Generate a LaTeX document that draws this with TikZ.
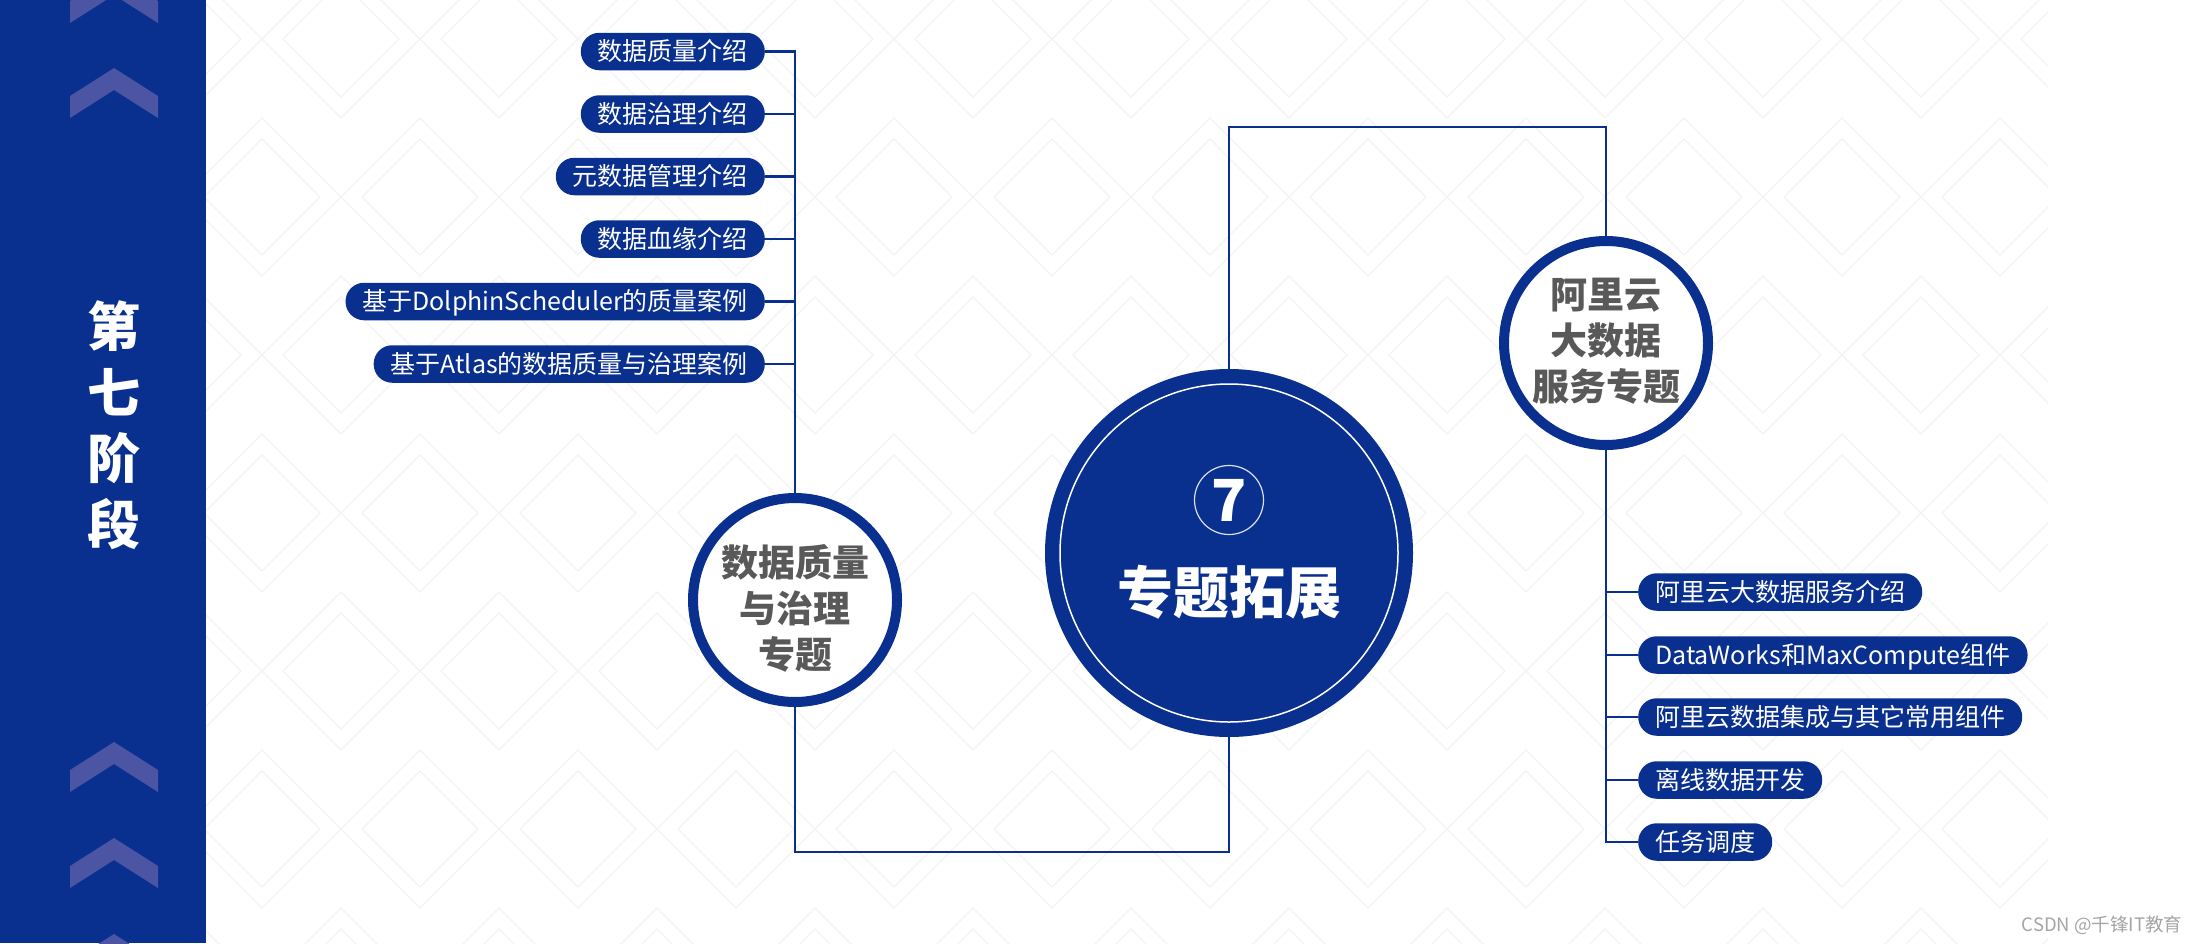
\documentclass[tikz,border=0pt]{standalone}
\usepackage{fontspec}
\setmainfont{Noto Sans CJK SC}
\definecolor{navy}{RGB}{10,48,143}
\definecolor{chev}{RGB}{76,84,164}
\definecolor{txtgrey}{RGB}{89,89,89}
\definecolor{patt}{RGB}{243,243,243}
\definecolor{wm}{RGB}{165,165,165}
\begin{document}
\begin{tikzpicture}[x=1pt,y=-1pt,
  conn/.style={draw=navy,line width=2.6pt},
  pill/.style={fill=navy,text=white,rounded corners=18.5pt,minimum height=37.5pt,
    inner xsep=17pt,inner ysep=0pt,text height=20pt,text depth=2pt,
    font=\fontsize{25}{25}\selectfont},
  ring/.style={circle,draw=navy,line width=10pt,fill=white,minimum size=204pt,inner sep=0pt},
  ringtext/.style={text=txtgrey,align=center,font=\bfseries\fontsize{37}{46}\selectfont},
  chevron/.style={fill=chev}]
\useasboundingbox (0,0) rectangle (2202,943);
\fill[white] (0,0) rectangle (2202,943);
% background pattern
\begin{scope}
\clip (206,0) rectangle (2048,943);
\foreach \j in {-4,...,3}{
  \foreach \i in {-1,...,12}{
    \pgfmathsetmacro{\cx}{262+158*\i+79*mod(abs(\j),2)}
    \pgfmathsetmacro{\cy}{513+158*\j}
    \draw[patt,line width=1.3pt] (\cx-79,\cy) -- (\cx,\cy-79) -- (\cx+79,\cy) -- (\cx,\cy+79) -- cycle;
    \draw[patt,line width=1.3pt] (\cx-58,\cy) -- (\cx,\cy-58) -- (\cx+58,\cy) -- (\cx,\cy+58) -- cycle;
  }
}
\end{scope}
% left band
\fill[navy] (0,0) rectangle (206,943);
\foreach \p in {-27,68,742,838,934}{
  \fill[chevron] (70,\p+28) -- (114,\p) -- (158,\p+28) -- (158,\p+50) -- (114,\p+22) -- (70,\p+50) -- cycle;
}
\node[text=white,align=center,font=\bfseries\fontsize{53}{66}\selectfont] (band) at (114,425) {第\\七\\阶\\段};
% central circle
\node[circle,fill=navy,minimum size=368pt,inner sep=0pt] (c7) at (1229,553) {};
\draw[white,line width=1.5pt] (c7.center) circle (169);
\node[circle,draw=white!85!navy,line width=1.2pt,minimum size=69pt,inner sep=0pt,text=white,
  font=\bfseries\fontsize{58}{58}\selectfont] (n7) at (1229,500) {7};
\node[text=white,font=\bfseries\fontsize{56}{56}\selectfont] (c7t) at (1229,592) {专题拓展};
% side circles
\node[ring] (dq) at (795,600) {};
\node[ringtext] (dqt) at (795,608) {数据质量\\与治理\\专题};
\node[ring] (ali) at (1606,343) {};
\node[ringtext] (alit) at (1606,341) {阿里云\\大数据\\服务专题};
% left pills
\node[pill,anchor=east] (p1) at (765,51.5) {数据质量介绍};
\node[pill,anchor=east] (p2) at (765,114) {数据治理介绍};
\node[pill,anchor=east] (p3) at (765,176.5) {元数据管理介绍};
\node[pill,anchor=east] (p4) at (765,239) {数据血缘介绍};
\node[pill,anchor=east] (p5) at (765,301.5) {基于DolphinScheduler的质量案例};
\node[pill,anchor=east] (p6) at (765,364) {基于Atlas的数据质量与治理案例};
% right pills
\node[pill,anchor=west] (r1) at (1638,592) {阿里云大数据服务介绍};
\node[pill,anchor=west] (r2) at (1638,655) {DataWorks和MaxCompute组件};
\node[pill,anchor=west] (r3) at (1638,717) {阿里云数据集成与其它常用组件};
\node[pill,anchor=west] (r4) at (1638,780) {离线数据开发};
\node[pill,anchor=west] (r5) at (1638,842) {任务调度};
% connectors
\coordinate (tr) at (1606,127);
\coordinate (bl) at (795,852);
\draw[conn] (c7.north) |- (tr) -- (ali.north);
\draw[conn] (c7.south) |- (bl) -- (dq.south);
\draw[conn] (dq.north) -- (dq.north |- p1.east) -- (p1.east);
\foreach \n in {p2,p3,p4,p5,p6}{
  \draw[conn] (\n.east) -- (\n.east -| dq.north);
}
\draw[conn] (ali.south) |- (r5.west);
\foreach \n in {r1,r2,r3,r4}{
  \draw[conn] (\n.west) -- (\n.west -| ali.south);
}
% watermark
\node[text=wm,anchor=east,font=\fontsize{18.5}{18.5}\selectfont] (wmk) at (2186,925) {CSDN @千锋IT教育};
\end{tikzpicture}
\end{document}
